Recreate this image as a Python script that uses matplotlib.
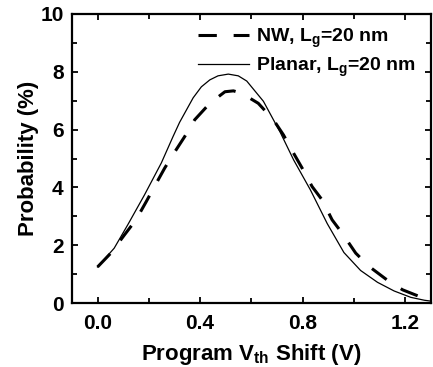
import numpy as np
import matplotlib
matplotlib.use('Agg')
import matplotlib.pyplot as plt

plt.rcParams['font.family'] = ['Liberation Sans', 'DejaVu Sans']
plt.rcParams['font.weight'] = 'bold'
plt.rcParams['mathtext.fontset'] = 'custom'
plt.rcParams['mathtext.rm'] = 'Liberation Sans:bold'
plt.rcParams['mathtext.it'] = 'Liberation Sans:bold'
plt.rcParams['mathtext.bf'] = 'Liberation Sans:bold'

#---------------- data --------------------------------------#
planar_x = [0.0, 0.065, 0.118, 0.183, 0.249, 0.294, 0.32, 0.373, 0.405, 0.438,
            0.47, 0.51, 0.549, 0.582, 0.647, 0.713, 0.765, 0.83, 0.896, 0.961,
            1.026, 1.092, 1.157, 1.222, 1.275, 1.30]
planar_y = [1.25, 1.90, 2.71, 3.74, 4.85, 5.75, 6.25, 7.10, 7.48, 7.72,
            7.86, 7.92, 7.86, 7.68, 6.98, 5.90, 4.95, 3.92, 2.75, 1.75,
            1.13, 0.72, 0.42, 0.20, 0.10, 0.07]

nw_x = [0.0, 0.052, 0.105, 0.15, 0.19, 0.222, 0.262, 0.294, 0.34, 0.379,
        0.438, 0.497, 0.53, 0.562, 0.627, 0.686, 0.725, 0.765, 0.798, 0.837,
        0.876, 0.915, 0.954, 1.007, 1.059, 1.137, 1.19, 1.261, 1.30]
nw_y = [1.25, 1.73, 2.36, 2.88, 3.51, 4.03, 4.67, 5.13, 5.76, 6.34,
        6.91, 7.31, 7.34, 7.26, 6.91, 6.34, 5.82, 5.18, 4.67, 4.03,
        3.57, 2.88, 2.42, 1.73, 1.27, 0.75, 0.46, 0.21, 0.15]

xticks = [0.0, 0.4, 0.8, 1.2]
yticks = [0, 2, 4, 6, 8, 10]

#---------------- plot -----------------#
fig = plt.figure(figsize=(4.33, 3.67), dpi=100)
ax = fig.add_axes([0.166, 0.174, 0.829, 0.788])

ax.plot(nw_x, nw_y, color='black', lw=2.2, dashes=(6, 5.5),
        label=r'NW, L$_\mathregular{g}$=20 nm')
ax.plot(planar_x, planar_y, color='black', lw=0.9,
        label=r'Planar, L$_\mathregular{g}$=20 nm')

ax.set_xlim(-0.1, 1.3)
ax.set_ylim(0, 10)
ax.set_xticks(xticks)
ax.set_xticklabels(['%.1f' % t for t in xticks])
ax.set_yticks(yticks)
ax.set_xticks(np.arange(-0.0, 1.3, 0.2), minor=True)
ax.set_yticks(np.arange(1, 10, 2), minor=True)

ax.tick_params(which='both', direction='in', top=True, right=True,
               width=1.3, labelsize=15)
ax.tick_params(axis='x', pad=8)
ax.tick_params(axis='y', pad=6)
ax.tick_params(which='major', length=4.5)
ax.tick_params(which='minor', length=3.5)
for s in ax.spines.values():
    s.set_linewidth(1.6)

ax.set_xlabel(r'Program V$_\mathregular{th}$ Shift (V)', fontsize=16,
              fontweight='bold', labelpad=6)
ax.set_ylabel('Probability (%)', fontsize=16, fontweight='bold', labelpad=1)

ax.legend(loc='upper right', frameon=False, fontsize=14, handlelength=2.6,
          handletextpad=0.35, labelspacing=0.3, borderaxespad=0.1,
          bbox_to_anchor=(0.985, 0.99))

plt.savefig('out.png', dpi=100)
